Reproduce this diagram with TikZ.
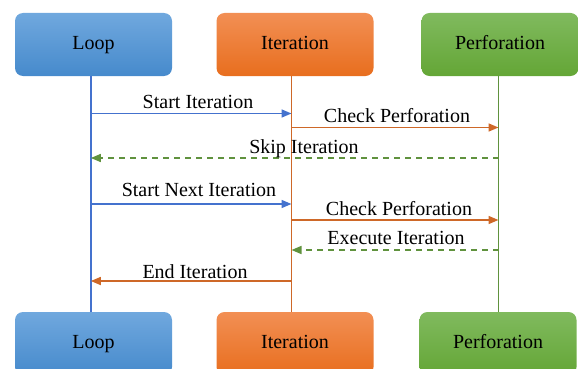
\documentclass[tikz,border=0pt]{standalone}
\usepackage{fontspec}
\setmainfont{Liberation Serif}
\newfontfamily\labelfont{Liberation Serif}
\usetikzlibrary{arrows.meta}
\definecolor{blueTop}{RGB}{112,168,222}
\definecolor{blueBot}{RGB}{70,138,204}
\definecolor{orangeTop}{RGB}{242,143,84}
\definecolor{orangeBot}{RGB}{232,110,30}
\definecolor{greenTop}{RGB}{128,186,94}
\definecolor{greenBot}{RGB}{100,166,54}
\definecolor{blueLine}{RGB}{68,114,206}
\definecolor{orangeLine}{RGB}{206,104,40}
\definecolor{greenLine}{RGB}{96,146,62}
\tikzset{
  actor/.style={rounded corners=8pt, minimum width=157pt, minimum height=63pt,
    inner sep=0pt, font=\labelfont\fontsize{20}{24}\selectfont},
  loopbox/.style={actor, top color=blueTop, bottom color=blueBot},
  iterbox/.style={actor, top color=orangeTop, bottom color=orangeBot},
  perfbox/.style={actor, top color=greenTop, bottom color=greenBot},
  lifeline/.style={line width=1.6pt},
  msg/.style={line width=1.6pt, -{Triangle[length=10pt,width=8pt]}},
  reply/.style={msg, dash pattern=on 6pt off 5pt},
  lbl/.style={anchor=base, inner sep=0pt, font=\labelfont\fontsize{20}{24}\selectfont}
}
\begin{document}
\begin{tikzpicture}[x=1pt,y=-1pt]
\useasboundingbox (0,0) rectangle (578,369);
\clip (0,0) rectangle (578,369);
% participants, top and bottom
\node[loopbox] (loopT) at (93.5,44.5) {\strut Loop};
\node[iterbox] (iterT) at (295,44.5) {\strut Iteration};
\node[perfbox] (perfT) at (500,44.5) {\strut Perforation};
\node[loopbox] (loopB) at (93.5,343.5) {\strut Loop};
\node[iterbox] (iterB) at (295,343.5) {\strut Iteration};
\node[perfbox] (perfB) at (498,343.5) {\strut Perforation};
% lifelines
\coordinate (lL) at (90.8,0);
\coordinate (lI) at (291.5,0);
\coordinate (lP) at (498.5,0);
\draw[lifeline, blueLine] (lL |- loopT.south) -- (lL |- loopB.north);
\draw[lifeline, orangeLine] (lI |- iterT.south) -- (lI |- iterB.north);
\draw[lifeline, greenLine] (lP |- perfT.south) -- (lP |- perfB.north);
% messages
\draw[msg, blueLine] (lL |- 0,113.5) -- (lI |- 0,113.5);
\node[lbl] (m1) at (198,108) {Start Iteration};
\draw[msg, orangeLine] (lI |- 0,127.5) -- (lP |- 0,127.5);
\node[lbl] (m2) at (397,122.5) {Check Perforation};
\draw[reply, greenLine] (lP |- 0,158) -- (lL |- 0,158);
\node[lbl] (m3) at (304,153) {Skip Iteration};
\draw[msg, blueLine] (lL |- 0,204) -- (lI |- 0,204);
\node[lbl] (m4) at (199,196.5) {Start Next Iteration};
\draw[msg, orangeLine] (lI |- 0,220) -- (lP |- 0,220);
\node[lbl] (m5) at (399,215.5) {Check Perforation};
\draw[reply, greenLine] (lP |- 0,250) -- (lI |- 0,250);
\node[lbl] (m6) at (396,244.5) {Execute Iteration};
\draw[msg, orangeLine] (lI |- 0,281) -- (lL |- 0,281);
\node[lbl] (m7) at (195,278) {End Iteration};
\end{tikzpicture}
\end{document}
